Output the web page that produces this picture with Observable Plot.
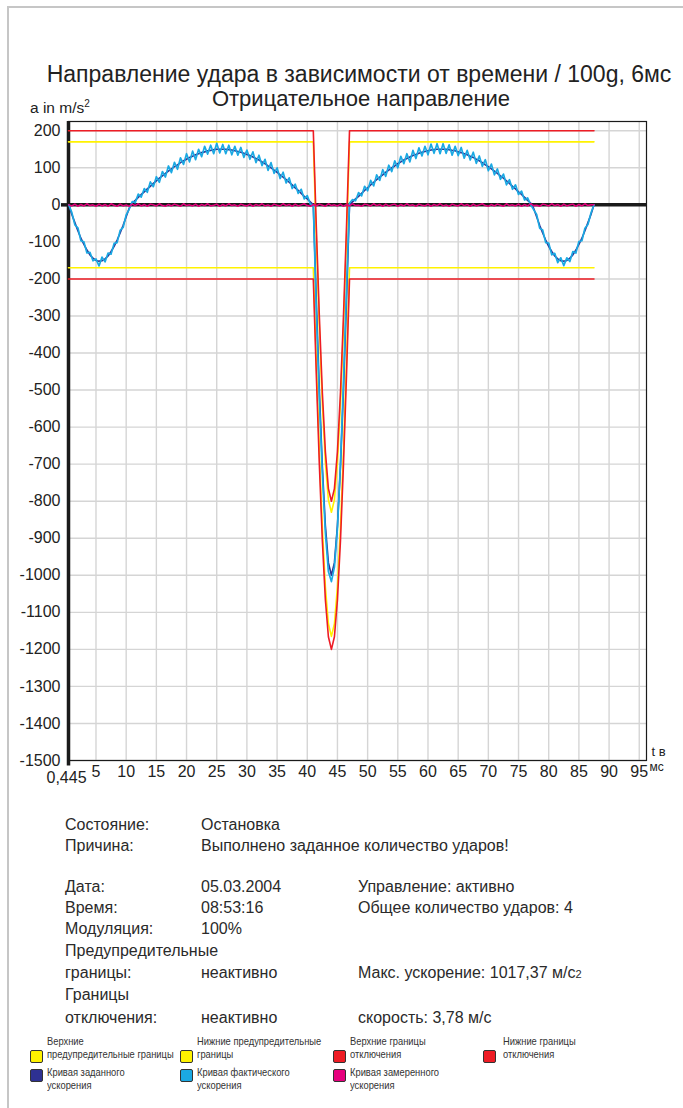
<!DOCTYPE html>
<html><head><meta charset="utf-8">
<script src="https://cdn.jsdelivr.net/npm/d3@7"></script>
<script src="https://cdn.jsdelivr.net/npm/@observablehq/plot@0.6"></script>
<style>
body{margin:0;background:#fff;width:683px;height:1108px;position:relative;overflow:hidden;font-family:"Liberation Sans",Arial,sans-serif;color:#222}
.frame{position:absolute;left:7px;top:6px;width:720px;height:1200px;border-left:2px solid #c6c6c6;border-top:2px solid #c6c6c6}
.t{position:absolute;white-space:nowrap}
#chart{position:absolute;left:0;top:110px}
.info{font-size:16px;line-height:20px;color:#2a2a2a}
.lg{font-family:"Liberation Sans",sans-serif;font-size:11px;line-height:13px;color:#333;transform:scaleX(0.85);transform-origin:0 0}
.sw{position:absolute;width:11px;height:11px;border:1.5px solid #333;border-radius:2px}
</style></head><body>
<div class="frame"></div>
<div class="t" style="left:0;width:718px;text-align:center;top:62px;font-size:23px;line-height:25px">Направление удара в зависимости от времени / 100g, 6мс</div>
<div class="t" style="left:0;width:722px;text-align:center;top:87px;font-size:22px;line-height:24px">Отрицательное направление</div>
<div class="t" style="left:30px;top:95px;font-size:15.5px;line-height:18px">a in m/s<sup style="font-size:10px">2</sup></div>
<div id="chart"></div>
<div id="info"></div>
<div id="legend"></div>
<script>
// ---- data ----
const timeStart = 0.5, timeStep = 0.5; // sample grid (ms)
const setCurve = [
0,-26,-48,-70,-90,-107,-122,-135,-144,-150,-152,-151,-146,-138,-126,-112,-95,-76,-55,-32,-9,
5,12,20,28,35,43,50,58,65,72,78,85,91,97,103,108,114,119,123,128,
131,135,138,141,143,146,147,149,150,150,150,150,149,148,146,144,142,139,136,133,
129,125,121,116,111,105,100,94,88,81,75,68,61,54,46,39,31,23,16,8,
0,-259,-500,-707,-866,-966,-1000,-966,-866,-707,-500,-259,0,
8,16,23,31,39,46,54,61,68,75,81,88,94,100,105,111,116,121,125,129,
133,136,139,142,144,146,148,149,150,150,150,150,149,147,146,143,141,138,135,131,
128,123,119,114,108,103,97,91,85,78,72,65,58,50,43,35,28,20,12,5,
-9,-32,-55,-76,-95,-112,-126,-138,-146,-151,-152,-150,-144,-135,-122,-107,-90,-70,-48,-26,0];
const actualCurve = [
0,-21,-54,-62,-97,-100,-130,-128,-151,-146,-165,-141,-154,-130,-133,-104,-102,-69,-61,-27,-12,
9,6,29,21,44,34,62,49,76,61,90,75,105,87,115,96,127,109,138,116,
145,122,150,130,158,137,161,138,166,140,163,138,161,135,158,134,155,128,148,123,
143,114,134,106,123,93,114,85,100,71,88,59,73,44,56,31,42,16,25,2,
0,-285,-525,-725,-885,-990,-1017,-978,-872,-700,-478,-228,5,
14,11,33,24,50,38,66,51,81,66,95,77,107,90,119,100,131,111,138,116,
147,125,154,132,158,135,164,139,165,138,165,139,162,134,158,133,155,126,147,121,
142,112,132,104,122,92,110,81,97,69,83,54,68,42,54,28,37,13,19,1,
-13,-26,-63,-68,-102,-103,-135,-131,-156,-143,-164,-143,-153,-126,-130,-99,-97,-63,-53,-22,0];
const measuredCurve = [
0,-3,2,-4,1,-3,3,-2,0,-4,2,-3,1,-4,3,-1,-4,2,-3,0,
-4,2,-2,3,-3,1,-4,2,0,-3,3,-2,-4,1,-3,2,-1,-4,3,-2,
0,-3,2,-4,1,-2,3,-3,-1,2,-4,1,-3,3,-2,0,-4,2,-1,-3,
2,-4,1,-2,3,-3,0,-4,2,-1,-3,3,-2,1,-4,2,-3,0,3,-2,
-4,1,-3,2,-1,-4,3,-2,0,-3,2,-4,1,-3,3,-2,-1,-4,2,0,
-3,3,-2,1,-4,2,-3,0,2,-4,1,-3,3,-2,0,-4,2,-1,-3,2,
-4,1,-2,3,-3,0,-4,2,-1,-3,3,-2,1,-4,2,-3,0,3,-2,-4,
1,-3,2,-1,-4,3,-2,0,-3,2,-4,1,-3,3,-2,-1,-4,2,0,-3,
3,-2,1,-4,2,-3,0,2,-4,1,-3,3,-2,0,0];
const limitTimes    = [0.445, 41, 41.5, 42, 42.5, 43, 43.5, 44, 44.5, 45, 45.5, 46, 46.5, 47, 87.5];
const upperShutdown = [200, 200, -60, -300, -507, -666, -766, -800, -766, -666, -507, -300, -60, 200, 200];
const lowerShutdown = [-200, -200, -459, -700, -907, -1066, -1166, -1200, -1166, -1066, -907, -700, -459, -200, -200];
const upperWarning  = [170, 170, -89, -330, -537, -696, -796, -830, -796, -696, -537, -330, -89, 170, 170];
const lowerWarning  = [-170, -170, -424, -665, -872, -1031, -1131, -1165, -1131, -1031, -872, -665, -424, -170, -170];
const xTicks = [5,10,15,20,25,30,35,40,45,50,55,60,65,70,75,80,85,90,95];
const xStartLabel = "0,445";
const yTicks = [-1500,-1400,-1300,-1200,-1100,-1000,-900,-800,-700,-600,-500,-400,-300,-200,-100,0,100,200];

const colors = {red:"#ee1c25", yellow:"#fff200", dark:"#2e3192", light:"#1ba9e3", magenta:"#e6007e"};

const infoRows = [
  ["Состояние:", "Остановка", ""],
  ["Причина:", "Выполнено заданное количество ударов!", ""],
  null,
  ["Дата:", "05.03.2004", "Управление: активно"],
  ["Время:", "08:53:16", "Общее количество ударов: 4"],
  ["Модуляция:", "100%", ""],
  ["Предупредительные", "", ""],
  ["границы:", "неактивно", "Макс. ускорение: 1017,37 м/с<span style='font-size:11px'>2</span>"],
  ["Границы", "", ""],
  ["отключения:", "неактивно", "скорость: 3,78 м/с"]
];
const legendItems = [
  {color: colors.yellow, lines: ["Верхние", "предупредительные границы"], row: 0, col: 0},
  {color: colors.yellow, lines: ["Нижние предупредительные", "границы"], row: 0, col: 1},
  {color: colors.red, lines: ["Верхние границы", "отключения"], row: 0, col: 2},
  {color: colors.red, lines: ["Нижние границы", "отключения"], row: 0, col: 3},
  {color: colors.dark, lines: ["Кривая заданного", "ускорения"], row: 1, col: 0},
  {color: colors.light, lines: ["Кривая фактического", "ускорения"], row: 1, col: 1},
  {color: colors.magenta, lines: ["Кривая замеренного", "ускорения"], row: 1, col: 2}
];

// ---- build ----
const series = (vals) => vals.map((v, i) => ({t: timeStart + i * timeStep, v}));
const limit = (vals) => vals.map((v, i) => ({t: limitTimes[i], v}));

const chart = Plot.plot({
  width: 683, height: 700,
  marginLeft: 68, marginRight: 37, marginTop: 11, marginBottom: 50,
  style: {fontFamily: '"Liberation Sans", Arial, sans-serif', fontSize: "16px", color: "#222", background: "transparent", overflow: "visible"},
  x: {domain: [0.445, 96.2]},
  y: {domain: [-1500, 225]},
  marks: [
    Plot.gridY(yTicks, {stroke: "#d5d5d5", strokeOpacity: 1, strokeWidth: 1.4}),
    Plot.gridX(xTicks, {stroke: "#d5d5d5", strokeOpacity: 1, strokeWidth: 1.4}),
    Plot.frame({stroke: "#1a1a1a", strokeWidth: 1.2}),
    Plot.ruleY([0], {stroke: "#1a1a1a", strokeWidth: 3.5}),
    Plot.axisY([0], {tickSize: 7, strokeWidth: 3.5, stroke: "#1a1a1a", tickFormat: () => "", label: null}),
    Plot.ruleX([0.445], {y1: -1515, y2: 225, stroke: "#1a1a1a", strokeWidth: 3.5}),
    Plot.axisY(yTicks, {tickSize: 0, tickPadding: 8, label: null, fontSize: 16, tickFormat: d => String(d)}),
    Plot.axisX(xTicks, {tickSize: 0, tickPadding: 5, label: null, fontSize: 16, tickFormat: d => String(d)}),
    Plot.axisX([0.445], {tickSize: 0, tickPadding: 11, label: null, fontSize: 16, tickFormat: () => xStartLabel, dx: -2}),
    Plot.text(["t в"], {frameAnchor: "bottom-right", textAnchor: "start", dx: 5, dy: -5, fontSize: 13}),
    Plot.text(["мс"], {frameAnchor: "bottom-right", textAnchor: "start", dx: 3, dy: 10, fontSize: 12}),
    Plot.line(limit(upperWarning), {x: "t", y: "v", stroke: colors.yellow, strokeWidth: 1.6}),
    Plot.line(limit(lowerWarning), {x: "t", y: "v", stroke: colors.yellow, strokeWidth: 1.6}),
    Plot.line(limit(upperShutdown), {x: "t", y: "v", stroke: colors.red, strokeWidth: 1.6}),
    Plot.line(limit(lowerShutdown), {x: "t", y: "v", stroke: colors.red, strokeWidth: 1.6}),
    Plot.line(series(setCurve), {x: "t", y: "v", stroke: colors.dark, strokeWidth: 1.6}),
    Plot.line(series(actualCurve), {x: "t", y: "v", stroke: colors.light, strokeWidth: 1.7}),
    Plot.line(series(measuredCurve), {x: "t", y: "v", stroke: colors.magenta, strokeWidth: 1.5})
  ]
});
document.getElementById("chart").appendChild(chart);

// info block
const info = document.getElementById("info");
const rowTops = [815, 836, null, 877, 898, 919, 941, 963, 985, 1008];
const colX = [65, 201, 358];
infoRows.forEach((r, i) => {
  if (!r) return;
  r.forEach((txt, c) => {
    if (!txt) return;
    const d = document.createElement("div");
    d.className = "t info";
    d.style.left = colX[c] + "px";
    d.style.top = rowTops[i] + "px";
    d.innerHTML = txt;
    info.appendChild(d);
  });
});

// legend
const lg = document.getElementById("legend");
const colLX = [30, 180, 333, 483];
legendItems.forEach(it => {
  const x = colLX[it.col];
  const sw = document.createElement("div");
  sw.className = "sw";
  sw.style.left = x + "px";
  sw.style.top = (it.row === 0 ? 1050 : 1069) + "px";
  sw.style.background = it.color;
  lg.appendChild(sw);
  const tx = document.createElement("div");
  tx.className = "t lg";
  tx.style.left = (x + (it.col === 3 ? 20 : 17)) + "px";
  tx.style.top = (it.row === 0 ? 1035 : 1066) + "px";
  tx.innerHTML = it.lines.join("<br>");
  lg.appendChild(tx);
});
</script>
</body></html>
